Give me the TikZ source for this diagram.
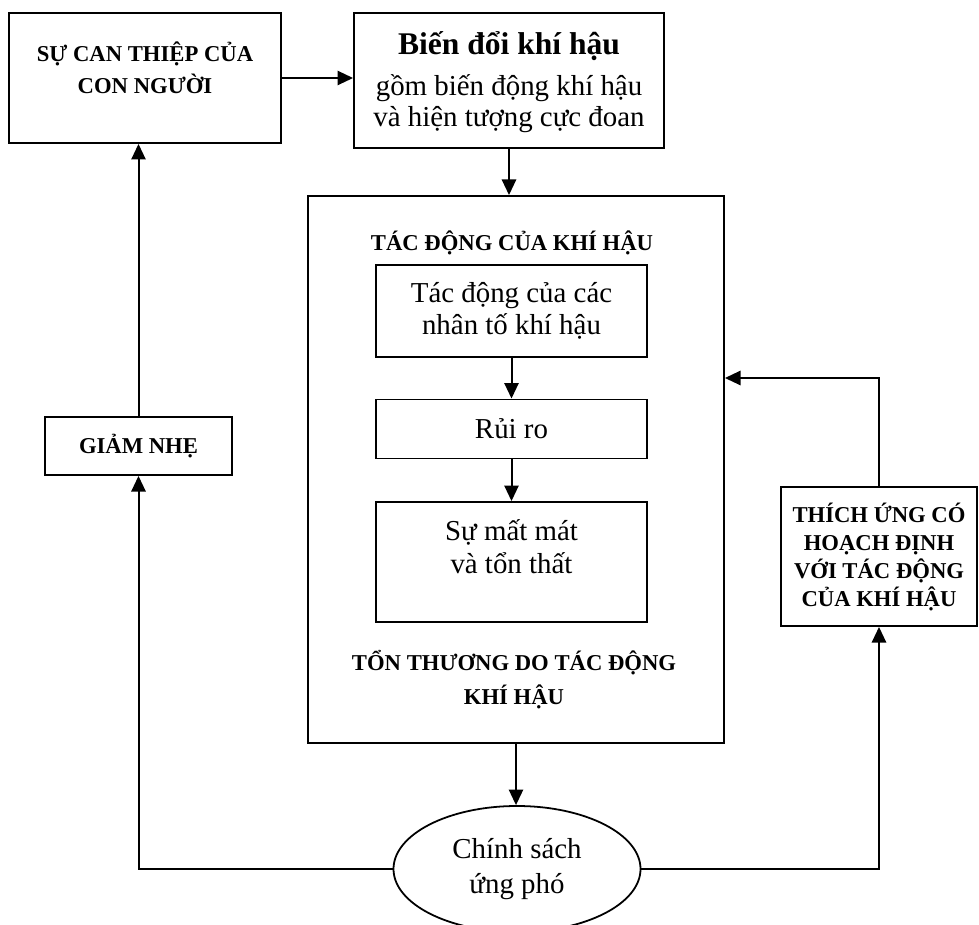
\documentclass[tikz,border=0pt]{standalone}
\usepackage{fontspec}
\setmainfont{Liberation Serif}
\usetikzlibrary{arrows.meta}
\usetikzlibrary{shapes.geometric}

\begin{document}
\begin{tikzpicture}[x=0.45pt,y=-0.45pt,
  khung/.style 2 args={minimum width=#1*0.45pt,minimum height=#2*0.45pt},
  hop/.style={draw,line width=0.85pt,inner sep=0pt,align=center,
    font=\fontsize{13}{14.4}\selectfont},
  hoa/.style={align=center,font=\bfseries\fontsize{10.2}{14.4}\selectfont},
  mui/.style={-{Triangle[length=7pt,width=6.4pt]},line width=0.9pt},
  day/.style={line width=0.7pt}]
  \clip (0,0) rectangle (979,925);

  \node[hop,khung={272}{130}] (sct) at (145,78) {};
  \node[hoa] (sctt) at (145,68) {SỰ CAN THIỆP CỦA\\CON NGƯỜI};

  \node[hop,khung={310}{135}] (bdkh) at (509,80.5) {};
  \node[align=center,font=\fontsize{13}{13.6}\selectfont] (bdkht) at (509,82)
    {{\bfseries\fontsize{14.2}{16}\selectfont Biến đổi khí hậu}\\[5pt]gồm biến động khí hậu\\và hiện tượng cực đoan};

  \node[hop,khung={416}{547}] (tdkh) at (516,469.5) {};
  \node[hoa] (tdkht) at (512,243) {TÁC ĐỘNG CỦA KHÍ HẬU};
  \node[hoa,font=\bfseries\fontsize{10.2}{15.2}\selectfont] (tttd) at (514,680)
    {TỔN THƯƠNG DO TÁC ĐỘNG\\KHÍ HẬU};

  \node[hop,khung={271}{92}] (tdnt) at (511.5,311) {Tác động của các\\nhân tố khí hậu};
  \node[hop,khung={271}{59}] (ruiro) at (511.5,429) {Rủi ro};
  \node[hop,khung={271}{120}] (smm) at (511.5,562) {};
  \node[align=center,font=\fontsize{13}{14.8}\selectfont] (smmt) at (511.5,547)
    {Sự mất mát\\và tổn thất};

  \node[hop,khung={187}{58},font=\bfseries\fontsize{10.2}{14.4}\selectfont] (gn) at (138.5,446) {GIẢM NHẸ};
  \node[hop,khung={196}{139},font=\bfseries\fontsize{10.2}{12.6}\selectfont] (tu) at (879,556.5)
    {THÍCH ỨNG CÓ\\HOẠCH ĐỊNH\\VỚI TÁC ĐỘNG\\CỦA KHÍ HẬU};

  \node[draw,ellipse,line width=0.8pt,inner sep=0pt,khung={247}{126},align=center,
    font=\fontsize{13}{16}\selectfont] (csup) at (517,869) {Chính sách\\ứng phó};

  % cac mui ten
  \draw[mui] (sct.east) -- (sct.east -| bdkh.west);
  \draw[mui] (bdkh.south) -- (bdkh.south |- tdkh.north);
  \draw[mui] (tdnt.south) -- (ruiro.north);
  \draw[mui] (ruiro.south) -- (smm.north);
  \draw[mui] (tdkh.south) -- (tdkh.south |- csup.north);
  \draw[mui] (csup.west) -| (gn.south);
  \draw[mui] (gn.north) -- (gn.north |- sct.south);
  \draw[mui] (csup.east) -| (tu.south);
  \draw[mui] (tu.north) |- (tdkh.east |- 0,378);
\end{tikzpicture}
\end{document}
